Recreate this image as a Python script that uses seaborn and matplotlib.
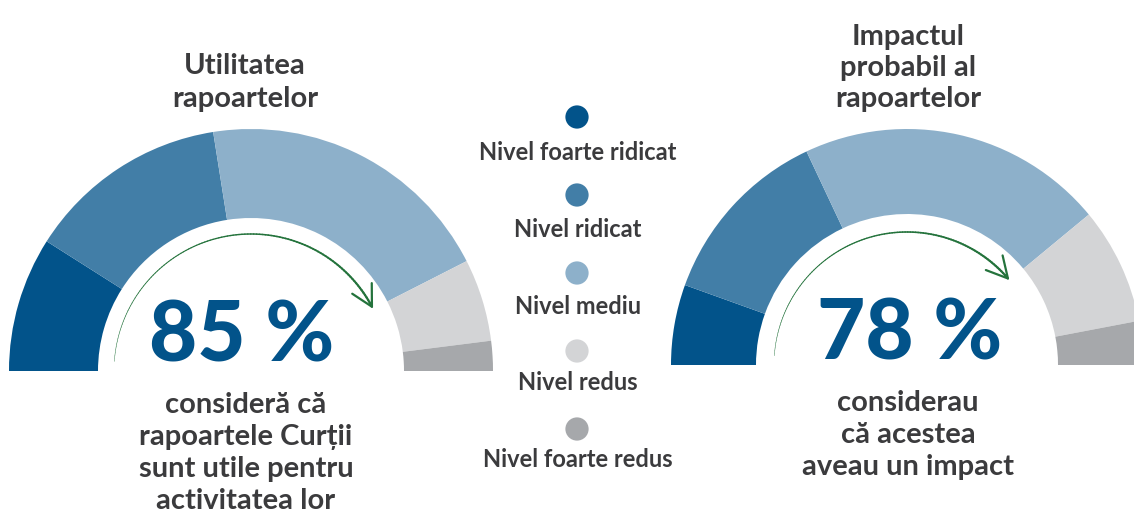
import numpy as np
import matplotlib.pyplot as plt
import pandas as pd
import seaborn as sns
from matplotlib.collections import LineCollection

# Share of answers per level (percent), read from the two gauges
levels = ["Nivel foarte ridicat", "Nivel ridicat", "Nivel mediu",
          "Nivel redus", "Nivel foarte redus"]
utility_shares = [18, 27, 40, 11, 4]
impact_shares = [11, 25, 42, 16, 6]
utility_pct = 85
impact_pct = 78

colors = ["#02538a", "#427ea7", "#8db0ca", "#d3d4d6", "#a6a8ab"]
TXT = "#3b3b3d"
BIG = "#02538a"
ARROW = "#24733c"

W, H = 1134, 515

sns.set_theme(style="white")
plt.rcParams["font.family"] = ["Lato", "DejaVu Sans"]

fig = plt.figure(figsize=(W / 100, H / 100), dpi=100)
ax = fig.add_axes([0, 0, 1, 1])


def py(y):
    # pixel row from the top -> data y
    return H - y


def gauge(shares, pct, cx, cy, r_out, r_in, r_arrow):
    wedges, _ = ax.pie(shares + [sum(shares)], colors=colors + ["none"],
                       startangle=180, counterclock=False,
                       center=(cx, py(cy)), radius=r_out,
                       wedgeprops=dict(width=r_out - r_in, linewidth=0))
    wedges[-1].set_visible(False)

    # green arc showing the cumulative share (tapering line + open arrow head)
    end = 180 * (1 - pct / 100)
    th = np.radians(np.linspace(176, end + 3, 120))
    xs = cx + r_arrow * np.cos(th)
    ys = py(cy) + r_arrow * np.sin(th)
    pts = np.column_stack([xs, ys]).reshape(-1, 1, 2)
    segs = np.concatenate([pts[:-1], pts[1:]], axis=1)
    lc = LineCollection(segs, colors=ARROW,
                        linewidths=np.linspace(0.3, 1.6, len(segs)),
                        capstyle="round")
    ax.add_collection(lc)
    te = np.radians(end)
    ax.annotate("", xy=(cx + r_arrow * np.cos(te), py(cy) + r_arrow * np.sin(te)),
                xytext=(xs[-1], ys[-1]),
                arrowprops=dict(arrowstyle="->,head_length=0.75,head_width=0.4",
                                color=ARROW, lw=1.6, mutation_scale=20,
                                shrinkA=0, shrinkB=0))


gauge(utility_shares, utility_pct, 251, 371, 242, 153, 137)
gauge(impact_shares, impact_pct, 907, 365, 236, 151, 133)


def lines(txts, x, y0, step, size):
    for i, t in enumerate(txts):
        ax.text(x, py(y0 + i * step), t, ha="center", va="baseline",
                fontsize=size, fontweight="bold", color=TXT)


lines(["Utilitatea", "rapoartelor"], 245, 74, 33, 21)
lines(["Impactul", "probabil al", "rapoartelor"], 908, 45, 31, 21)
lines(["consideră că", "rapoartele Curții", "sunt utile pentru",
       "activitatea lor"], 246, 413, 32, 21)
lines(["considerau", "că acestea", "aveau un impact"], 908, 411, 32, 21)

ax.text(242, py(362), f"{utility_pct} %", ha="center", va="baseline",
        fontsize=60, fontweight="black", color=BIG)
ax.text(910, py(360), f"{impact_pct} %", ha="center", va="baseline",
        fontsize=60, fontweight="black", color=BIG)

# central legend: dot above each label
leg = pd.DataFrame({"level": levels,
                    "x": 577,
                    "y": py(np.linspace(117, 429, len(levels)))})
sns.scatterplot(data=leg, x="x", y="y", hue="level", palette=colors,
                s=280, linewidth=0, legend=False, ax=ax)
for i, lab in enumerate(levels):
    ax.text(578, py(160 + i * 76.8), lab, ha="center", va="baseline",
            fontsize=17, fontweight="bold", color=TXT)

ax.set_xlim(0, W)
ax.set_ylim(0, H)
ax.set_aspect("equal")
ax.axis("off")

fig.savefig("out.png", dpi=100, facecolor="white")
